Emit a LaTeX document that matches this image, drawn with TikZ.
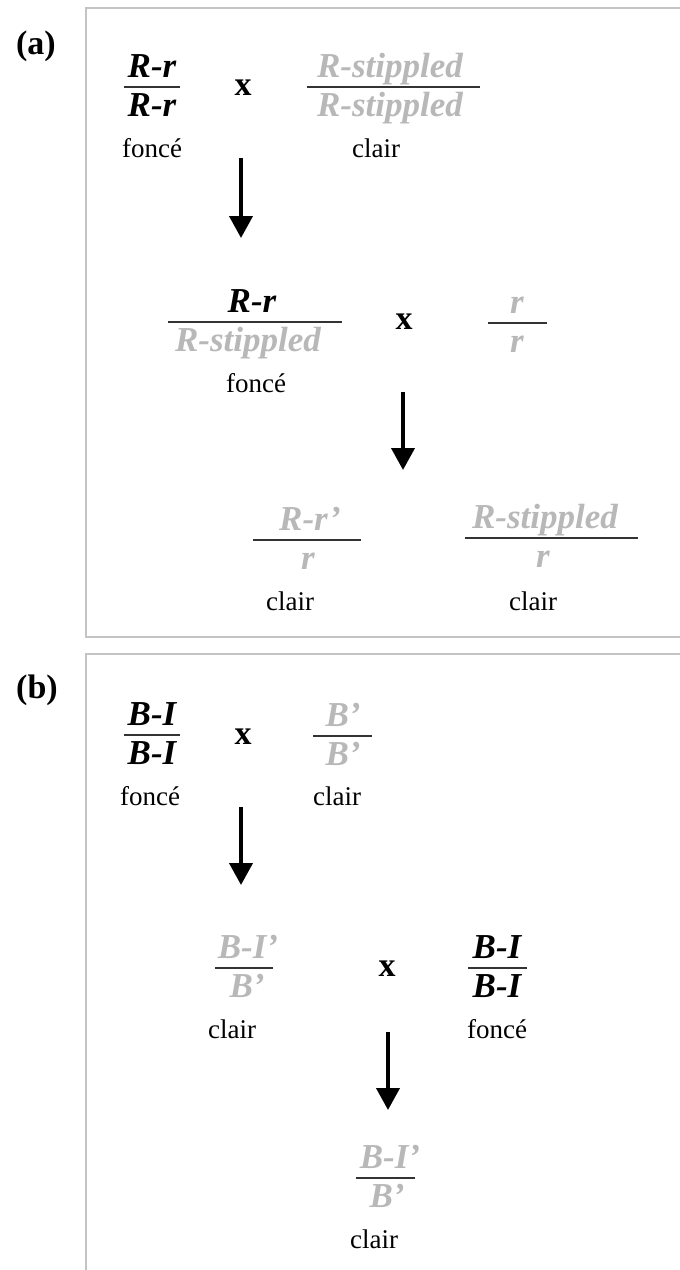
\documentclass[tikz,border=0pt]{standalone}
\usepackage{fontspec}
\setmainfont{Liberation Serif}
\usetikzlibrary{arrows.meta}
\definecolor{lightg}{HTML}{B8B8B8}
\definecolor{boxg}{HTML}{C4C4C4}
\definecolor{barc}{HTML}{333333}
\tikzset{
  fracbase/.style={anchor=base, inner sep=0pt, font=\fontsize{35}{35}\selectfont\bfseries\itshape},
  dark/.style={fracbase, text=black},
  light/.style={fracbase, text=lightg},
  lbl/.style={anchor=base, inner sep=0pt, font=\fontsize{27}{27}\selectfont},
  cross/.style={anchor=base, inner sep=0pt, font=\fontsize{34}{34}\selectfont\bfseries},
  panellbl/.style={anchor=center, inner sep=0pt, font=\fontsize{34}{34}\selectfont\bfseries},
  bar/.style={draw=barc, line width=1.5pt},
  panel/.style={draw=boxg, line width=1.5pt},
  down/.style={line width=4pt, -{Triangle[width=23pt,length=22pt]}},
}
\begin{document}
\begin{tikzpicture}[x=1pt,y=-1pt]
\useasboundingbox (0,0) rectangle (680,1270);
\clip (0,0) rectangle (680,1270);
\fill[white] (0,0) rectangle (680,1270);

% panels
\draw[panel] (700,8) -- (86,8) -- (86,637) -- (700,637);
\draw[panel] (700,654) -- (86,654) -- (86,1290);
\node[panellbl] (la) at (36,46) {(a)};
\node[panellbl] (lb) at (37,690) {(b)};

% ---------- panel (a) ----------
% row 1
\node[dark] (a1n) at (152,77) {R-r};
\coordinate (a1l) at (124,87); \coordinate (a1r) at (180,87);
\draw[bar] (a1l) -- (a1r);
\node[dark] (a1d) at (152,116) {R-r};
\node[lbl] (a1t) at (152,157) {foncé};
\node[cross] (ax1) at (243,95) {x};
\node[light] (a2n) at (390,77) {R-stippled};
\coordinate (a2l) at (307,87); \coordinate (a2r) at (480,87);
\draw[bar] (a2l) -- (a2r);
\node[light] (a2d) at (390,116) {R-stippled};
\node[lbl] (a2t) at (376,157) {clair};
\coordinate (ar1s) at (241,158); \coordinate (ar1e) at (241,238);
\draw[down] (ar1s) -- (ar1e);

% row 2
\node[dark] (a3n) at (252,312) {R-r};
\coordinate (a3l) at (168,322); \coordinate (a3r) at (342,322);
\draw[bar] (a3l) -- (a3r);
\node[light] (a3d) at (248,351) {R-stippled};
\node[lbl] (a3t) at (256,392) {foncé};
\node[cross] (ax2) at (404,329) {x};
\node[light] (a4n) at (517,313) {r};
\coordinate (a4l) at (488,323); \coordinate (a4r) at (547,323);
\draw[bar] (a4l) -- (a4r);
\node[light] (a4d) at (517,352) {r};
\coordinate (ar2s) at (403,392); \coordinate (ar2e) at (403,470);
\draw[down] (ar2s) -- (ar2e);

% row 3
\node[light] (a5n) at (310,530) {R-r’};
\coordinate (a5l) at (253,540); \coordinate (a5r) at (361,540);
\draw[bar] (a5l) -- (a5r);
\node[light] (a5d) at (308,569) {r};
\node[lbl] (a5t) at (290,610) {clair};
\node[light] (a6n) at (545,528) {R-stippled};
\coordinate (a6l) at (465,538); \coordinate (a6r) at (638,538);
\draw[bar] (a6l) -- (a6r);
\node[light] (a6d) at (543,567) {r};
\node[lbl] (a6t) at (533,610) {clair};

% ---------- panel (b) ----------
% row 1
\node[dark] (b1n) at (152,725) {B-I};
\coordinate (b1l) at (124,735); \coordinate (b1r) at (180,735);
\draw[bar] (b1l) -- (b1r);
\node[dark] (b1d) at (152,764) {B-I};
\node[lbl] (b1t) at (150,805) {foncé};
\node[cross] (bx1) at (243,744) {x};
\node[light] (b2n) at (343,726) {B’};
\coordinate (b2l) at (313,736); \coordinate (b2r) at (372,736);
\draw[bar] (b2l) -- (b2r);
\node[light] (b2d) at (343,765) {B’};
\node[lbl] (b2t) at (337,805) {clair};
\coordinate (br1s) at (241,807); \coordinate (br1e) at (241,885);
\draw[down] (br1s) -- (br1e);

% row 2
\node[light] (b3n) at (248,958) {B-I’};
\coordinate (b3l) at (215,968); \coordinate (b3r) at (273,968);
\draw[bar] (b3l) -- (b3r);
\node[light] (b3d) at (247,997) {B’};
\node[lbl] (b3t) at (232,1038) {clair};
\node[cross] (bx2) at (387,976) {x};
\node[dark] (b4n) at (497,958) {B-I};
\coordinate (b4l) at (468,968); \coordinate (b4r) at (527,968);
\draw[bar] (b4l) -- (b4r);
\node[dark] (b4d) at (497,997) {B-I};
\node[lbl] (b4t) at (497,1038) {foncé};
\coordinate (br2s) at (388,1032); \coordinate (br2e) at (388,1110);
\draw[down] (br2s) -- (br2e);

% row 3
\node[light] (b5n) at (390,1168) {B-I’};
\coordinate (b5l) at (356,1178); \coordinate (b5r) at (415,1178);
\draw[bar] (b5l) -- (b5r);
\node[light] (b5d) at (387,1207) {B’};
\node[lbl] (b5t) at (374,1248) {clair};
\end{tikzpicture}
\end{document}
